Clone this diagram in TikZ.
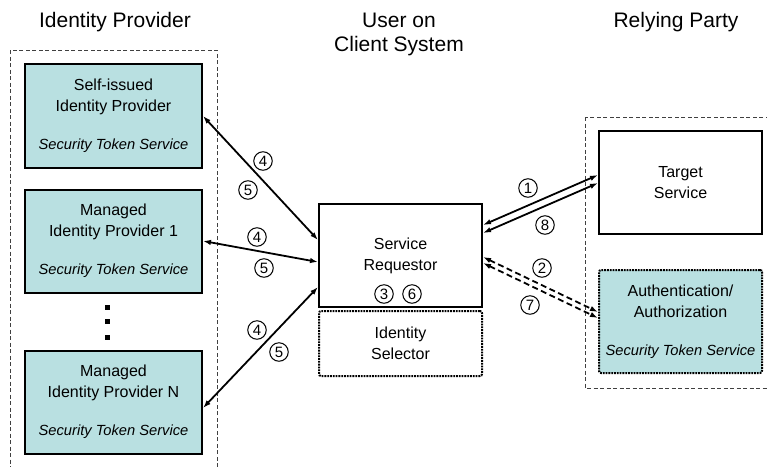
\documentclass[tikz,border=0pt]{standalone}
\usepackage{fontspec}
\setmainfont{Liberation Sans}
\usetikzlibrary{arrows.meta}
\definecolor{stsfill}{RGB}{185,224,225}
\newcommand{\sts}{\\[17pt]{\itshape\fontsize{14.7}{17}\selectfont Security Token Service}}

\begin{document}
\begin{tikzpicture}[x=1pt, y=-1pt,
    heading/.style={align=center, font=\fontsize{21}{24}\selectfont},
    box/.style={draw, line width=2pt, align=center, inner sep=0pt, font=\fontsize{16}{21}\selectfont, minimum width=163pt, minimum height=103pt},
    idp/.style={box, fill=stsfill, minimum width=177pt},
    dotbox/.style={box, dash pattern=on 1.8pt off 1pt, rounded corners=2pt},
    group/.style={draw=black!75, line width=0.9pt, dash pattern=on 4pt off 2.5pt},
    num/.style={circle, draw, line width=1pt, inner sep=0pt, minimum size=18.5pt, font=\fontsize{15}{15}\selectfont},
    link/.style={{Latex[length=8pt,width=5.5pt]}-{Latex[length=8pt,width=5.5pt]}, line width=1.8pt},
    dlink/.style={link, dash pattern=on 6pt off 3.5pt}
  ]
    \useasboundingbox (0,0) rectangle (767,466);
    \clip (0,0) rectangle (767,466);
    % headings
    \node[heading] (hIdp) at (115,22) {Identity Provider};
    \node[heading] (hUser) at (399,34) {User on\\Client System};
    \node[heading] (hRp) at (676,22) {Relying Party};
    % groups
    \draw[group] (10,50) rectangle (217,480);
    \draw[group] (585,117) rectangle (780,388);
    % identity providers
    \node[idp, minimum height=104pt] (self) at (113.5,116) {Self-issued\\Identity Provider\sts};
    \node[idp] (mgd1) at (113.5,241) {Managed\\Identity Provider 1\sts};
    \node[idp] (mgdN) at (113.5,402) {Managed\\Identity Provider N\sts};
    \foreach \y in {307,321,337}
      \fill (105,\y-2.5) rectangle ++(5,5);
    % client system
    \node[box] (sr) at (400.5,255.5) {Service\\Requestor};
    \node[dotbox, minimum height=65pt] (sel) at (400.5,343.5) {Identity\\Selector};
    % relying party
    \node[box] (target) at (680.5,182.5) {Target\\Service};
    \node[dotbox, fill=stsfill] (auth) at (680.5,321.5) {Authentication/\\Authorization\sts};
    % connectors
    \draw[link] (self.east) -- ([yshift=15.5pt]sr.west);
    \draw[link] (mgd1.east) -- ([yshift=-6.5pt]sr.west);
    \draw[link] ([yshift=-6pt]mgdN.east) -- ([yshift=-31.5pt]sr.west);
    \draw[link] ([yshift=30.5pt]sr.east) -- ([yshift=7.5pt]target.west);
    \draw[link] ([yshift=22.5pt]sr.east) -- ([yshift=-0.5pt]target.west);
    \draw[dlink] ([yshift=-1.5pt]sr.east) -- ([yshift=9.5pt]auth.west);
    \draw[dlink] ([yshift=-7.5pt]sr.east) -- ([yshift=3.5pt]auth.west);
    % step numbers
    \node[num] (s4a) at (263,161) {4};
    \node[num] (s5a) at (248,190) {5};
    \node[num] (s4b) at (257,237) {4};
    \node[num] (s5b) at (264,268) {5};
    \node[num] (s4c) at (257,330) {4};
    \node[num] (s5c) at (279,352) {5};
    \node[num] (s3) at (384,294) {3};
    \node[num] (s6) at (412,294) {6};
    \node[num] (s1) at (528,188) {1};
    \node[num] (s8) at (545,225) {8};
    \node[num] (s2) at (542,268) {2};
    \node[num] (s7) at (530,305) {7};
  \end{tikzpicture}
\end{document}
